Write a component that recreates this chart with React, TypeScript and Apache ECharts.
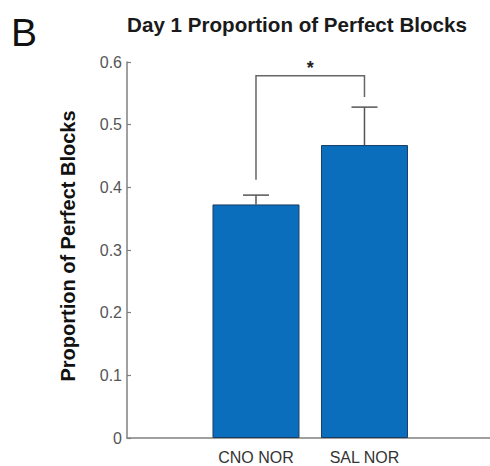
import React, { useEffect, useRef } from "react";
import * as echarts from "echarts";

const categories = ["CNO NOR", "SAL NOR"];
const categoryPositions = [1, 2];
const means = [0.3727, 0.4675];
const errors = [0.0149, 0.0605];
const yTickValues = [0, 0.1, 0.2, 0.3, 0.4, 0.5, 0.6];
const bracketEnds = [0.412, 0.544];
const bracketTop = 0.578;
const sigLabel = "*";

export default function App() {
  const ref = useRef<HTMLDivElement>(null);
  useEffect(() => {
    document.body.style.margin = "0";
    const chart = echarts.init(ref.current!, null, { renderer: "svg" });
    const font = "'Liberation Sans', Arial, Helvetica, sans-serif";
    const axisColor = "#808080";
    chart.setOption({
      animation: false,
      backgroundColor: "#ffffff",
      textStyle: { fontFamily: font },
      title: {
        text: "Day 1 Proportion of Perfect Blocks",
        left: 297,
        textAlign: "center",
        top: 14,
        padding: 0,
        textStyle: { fontFamily: font, fontSize: 20.6, fontWeight: "bold", color: "#1a1a1a" },
      },
      graphic: [
        {
          type: "text",
          left: 11,
          top: 13,
          style: { text: "B", fontFamily: font, fontSize: 39, fill: "#111", fontWeight: "normal" },
        },
      ],
      grid: { left: 127, top: 62, right: 0, bottom: 28, containLabel: false },
      xAxis: {
        type: "value",
        min: -0.189,
        max: 3.157,
        splitLine: { show: false },
        axisLine: { show: true, onZero: false, lineStyle: { color: axisColor, width: 1.5 } },
        axisTick: {
          show: true,
          inside: true,
          length: 4,
          customValues: categoryPositions,
          lineStyle: { color: "#333", width: 1 },
        },
        axisLabel: {
          show: true,
          customValues: categoryPositions,
          formatter: (v: number) => categories[Math.round(v) - 1] ?? "",
          fontSize: 16,
          color: "#333",
          margin: 11,
          fontFamily: font,
        },
      },
      yAxis: {
        type: "value",
        min: 0,
        max: 0.6,
        interval: 0.1,
        name: "Proportion of Perfect Blocks",
        nameLocation: "middle",
        nameGap: 49,
        nameTextStyle: { fontFamily: font, fontSize: 20, fontWeight: "bold", color: "#111", padding: [0, 0, 0, 8] },
        splitLine: { show: false },
        axisLine: { show: true, onZero: false, lineStyle: { color: axisColor, width: 1.5 } },
        axisTick: { show: true, inside: true, length: 4, lineStyle: { color: axisColor, width: 1.2 } },
        axisLabel: {
          customValues: yTickValues,
          formatter: (v: number) => (v === 0 ? "0" : v.toFixed(1)),
          fontSize: 16,
          color: "#555",
          margin: 5,
          fontFamily: font,
        },
      },
      series: [
        {
          type: "bar",
          data: categoryPositions.map((x, i) => [x, means[i]]),
          barWidth: 87,
          itemStyle: { color: "#0a6ebd", borderColor: "#1b3d63", borderWidth: 1 },
          z: 2,
        },
        {
          type: "custom",
          data: categoryPositions.map((x, i) => [x, means[i], errors[i]]),
          z: 3,
          renderItem: (params: any, api: any) => {
            const x = api.value(0);
            const m = api.value(1);
            const e = api.value(2);
            const p0 = api.coord([x, m]);
            const p1 = api.coord([x, m + e]);
            const st = { stroke: "#555", lineWidth: 1.5 };
            return {
              type: "group",
              children: [
                { type: "line", shape: { x1: p0[0], y1: p0[1], x2: p1[0], y2: p1[1] }, style: st },
                { type: "line", shape: { x1: p1[0] - 13, y1: p1[1], x2: p1[0] + 13, y2: p1[1] }, style: st },
              ],
            };
          },
        },
        {
          type: "custom",
          data: [[categoryPositions[0], bracketEnds[0], categoryPositions[1], bracketEnds[1], bracketTop]],
          z: 3,
          renderItem: (params: any, api: any) => {
            const a = api.coord([api.value(0), api.value(1)]);
            const b = api.coord([api.value(0), api.value(4)]);
            const c = api.coord([api.value(2), api.value(4)]);
            const d = api.coord([api.value(2), api.value(3)]);
            return {
              type: "group",
              children: [
                {
                  type: "polyline",
                  shape: { points: [a, b, c, d] },
                  style: { stroke: "#666", lineWidth: 1.5, fill: "none" },
                },
                {
                  type: "text",
                  x: (b[0] + c[0]) / 2,
                  y: b[1] + 1,
                  style: {
                    text: sigLabel,
                    fontSize: 18,
                    fontWeight: "bold",
                    fill: "#222",
                    align: "center",
                    verticalAlign: "bottom",
                    fontFamily: font,
                  },
                },
              ],
            };
          },
        },
      ],
    });
    return () => chart.dispose();
  }, []);
  return <div ref={ref} style={{ width: 490, height: 466 }} />;
}
